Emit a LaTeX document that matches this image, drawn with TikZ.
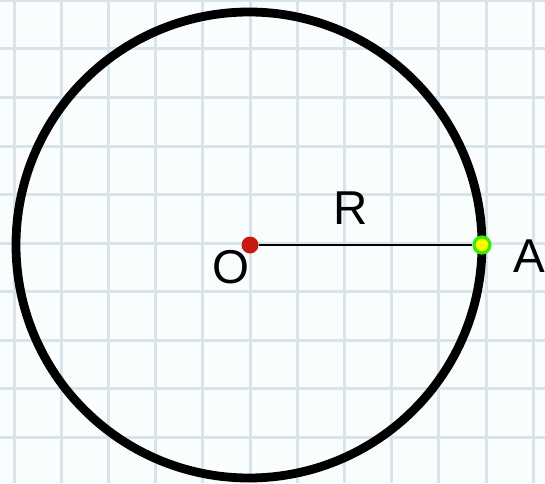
\documentclass[tikz,border=0pt]{standalone}
\usepackage{fontspec}
\setmainfont{Liberation Sans}
\usepackage{xcolor}
\usepackage{tikz}
\usetikzlibrary{positioning}
\definecolor{paperbg}{HTML}{FAFDFE}
\definecolor{gridblue}{HTML}{D8E3EA}
\definecolor{centerred}{HTML}{C81A12}
\definecolor{pointgreen}{HTML}{33EE00}
\definecolor{pointyellow}{HTML}{FFFF00}
\tikzstyle{gridline} = [draw=gridblue, line width=1.5pt]
\tikzstyle{bigcircle} = [draw=black, line width=4.4pt]
\tikzstyle{radiusline} = [draw=black, line width=1pt]
\tikzstyle{centerdot} = [circle, fill=centerred, inner sep=0pt, minimum size=8.5pt]
\tikzstyle{pointdot} = [circle, draw=pointgreen, fill=pointyellow, line width=1.6pt, inner sep=0pt, minimum size=8pt]
\tikzstyle{ptlabel} = [inner sep=0pt, anchor=base, font=\fontsize{23.75}{28}\selectfont]

\begin{document}
\begin{tikzpicture}[x=0.5pt, y=0.5pt]
  \useasboundingbox (0,0) rectangle (545,483);
  \fill[paperbg] (0,0) rectangle (545,483);
  % squared paper
  \foreach \i in {0,...,11}
    \draw[gridline] ({14+47.2*\i},0) -- ({14+47.2*\i},483);
  \foreach \j in {0,...,9}
    \draw[gridline] (0,{482.5-48.5*\j}) -- (545,{482.5-48.5*\j});

  \coordinate (C) at (249,238);
  \draw[bigcircle] (C) circle (233);

  \node (O) [centerdot] at (250,238) {};
  \node (A) [pointdot] at (482,238) {};
  \draw[radiusline] (O) -- (A);

  \node (lblO) [ptlabel] at (231,200) {O};
  \node (lblR) [ptlabel] at (351,259) {R};
  \node (lblA) [ptlabel] at (529,211) {A};
\end{tikzpicture}
\end{document}
